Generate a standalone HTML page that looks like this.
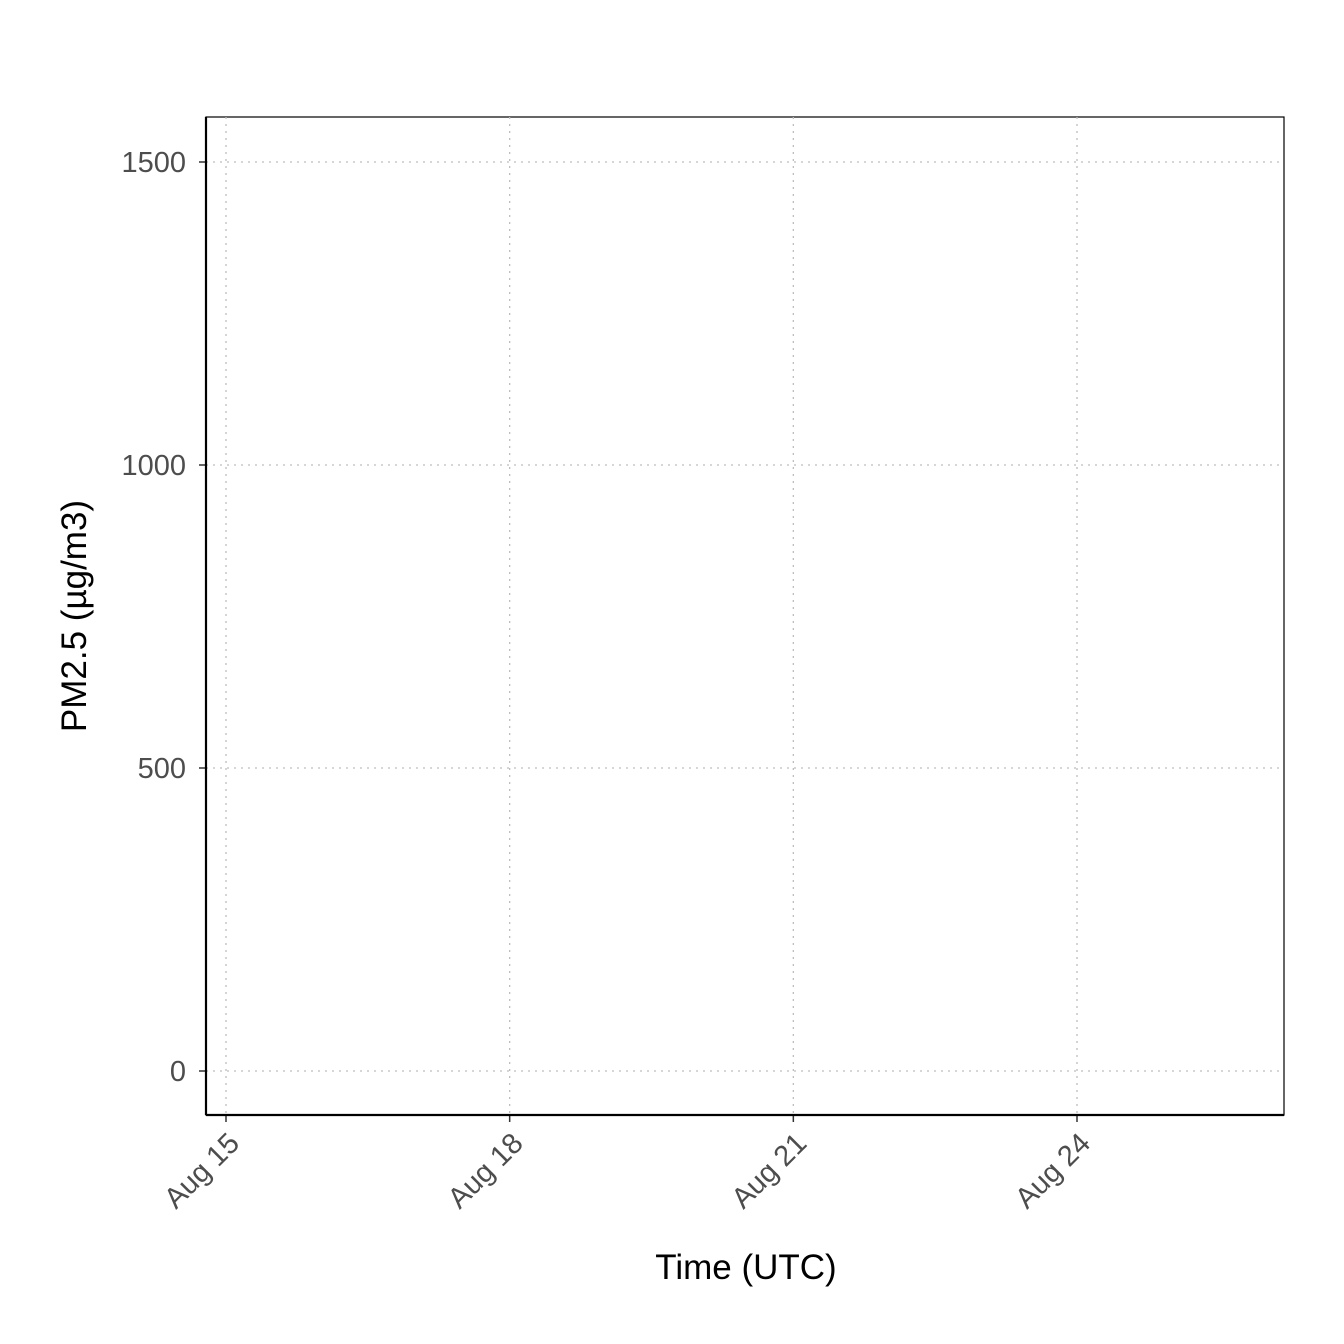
<!DOCTYPE html>
<html><head><meta charset="utf-8">
<style>
html,body{margin:0;padding:0;background:#fff;}
svg{display:block;font-family:"Liberation Sans",Arial,sans-serif;}
</style></head>
<body>
<svg id="chart" width="1344" height="1344" viewBox="0 0 1344 1344" xmlns="http://www.w3.org/2000/svg">
<rect x="0" y="0" width="1344" height="1344" fill="#fff"/>
<rect x="206" y="117" width="1078" height="998" fill="none" stroke="#000" stroke-width="1.2"/>
<g id="grid"></g>
<g id="axes"></g>
<g id="series"></g>
<text transform="translate(86,616) rotate(-90)" text-anchor="middle" font-size="35" fill="#000">PM2.5 (µg/m3)</text>
<text x="746" y="1279" text-anchor="middle" font-size="35" fill="#000">Time (UTC)</text>
</svg>
<script>
const yTicks = [0, 500, 1000, 1500];
const xTickDays = [0, 3, 6, 9];
const xTickLabels = ["Aug 15", "Aug 18", "Aug 21", "Aug 24"];
const seriesValues = [];

const NS = "http://www.w3.org/2000/svg";
const L = 206, R = 1284, T = 117, B = 1115;
function yScale(v){ return 1071 + (162 - 1071) * v / 1500; }
function xScale(d){ return 226 + d * (1077 - 226) / 9; }
function mk(tag, attrs){ const e = document.createElementNS(NS, tag); for (const k in attrs) e.setAttribute(k, attrs[k]); return e; }
const grid = document.getElementById('grid'), axes = document.getElementById('axes');

yTicks.forEach(v => {
  const y = yScale(v);
  const g = mk('line', {x1: L, x2: R, y1: y, y2: y, stroke: '#bdbdbd', 'stroke-width': 1.3, 'stroke-dasharray': '2,5'});
  
  
  grid.appendChild(g);
  const t = mk('line', {x1: 199, x2: 206, y1: y, y2: y, stroke: '#333', 'stroke-width': 1.5});
  
  
  axes.appendChild(t);
  const lb = mk('text', {x: 186, y: y + 10, 'text-anchor': 'end', 'font-size': 29, fill: '#4d4d4d'});
  lb.textContent = v;
  
  
  axes.appendChild(lb);
});
xTickDays.forEach((d, i) => {
  const x = xScale(d);
  const g = mk('line', {x1: x, x2: x, y1: T, y2: B, stroke: '#bdbdbd', 'stroke-width': 1.3, 'stroke-dasharray': '2,5'});
  
  
  grid.appendChild(g);
  const t = mk('line', {x1: x, x2: x, y1: B, y2: B + 7, stroke: '#333', 'stroke-width': 1.5});
  
  
  axes.appendChild(t);
  const lb = mk('text', {transform: `translate(${x + 15},${B + 30}) rotate(-45)`, 'text-anchor': 'end', 'font-size': 29, fill: '#4d4d4d'});
  lb.textContent = xTickLabels[i];
  
  
  axes.appendChild(lb);
});
const ya = mk('line', {x1: L, x2: L, y1: T, y2: B, stroke: '#000', 'stroke-width': 2.2});


axes.appendChild(ya);
const xa = mk('line', {x1: L, x2: R, y1: B, y2: B, stroke: '#000', 'stroke-width': 2.2});


axes.appendChild(xa);

const ser = document.getElementById('series');
if (seriesValues.length) {
  const p = mk('path', {d: seriesValues.map((v, i) => (i ? 'L' : 'M') + xScale(v[0]) + ',' + yScale(v[1])).join(''), fill: 'none', stroke: '#000', 'stroke-width': 1.5});
  
  
  ser.appendChild(p);
}
</script>
</body></html>
